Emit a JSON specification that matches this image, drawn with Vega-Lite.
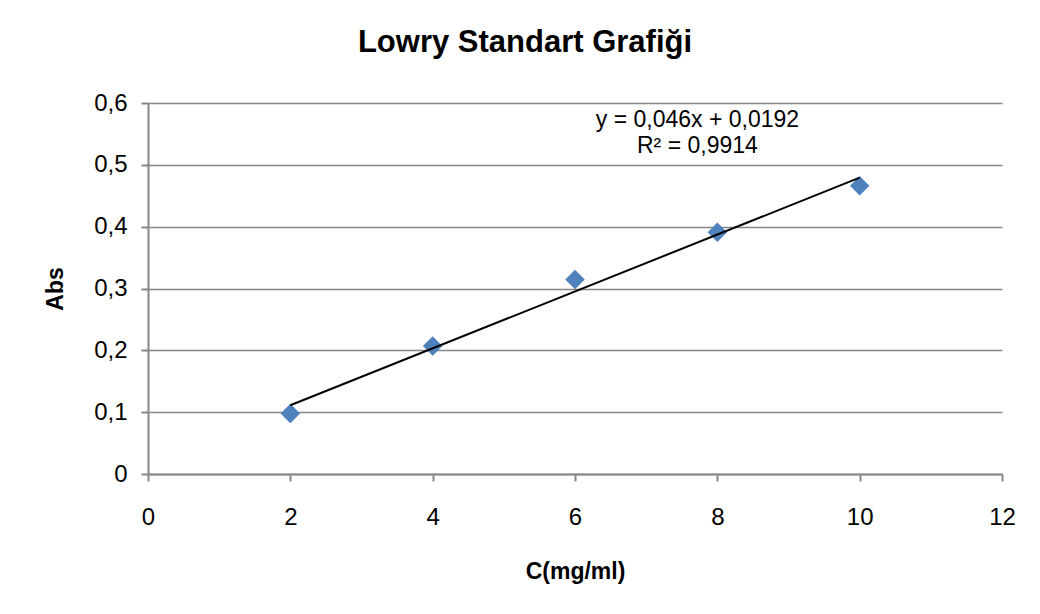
{
  "$schema": "https://vega.github.io/schema/vega-lite/v6.json",
  "width": 854,
  "height": 371,
  "autosize": {"type": "none"},
  "padding": {"left": 148, "top": 103, "right": 38, "bottom": 140},
  "background": "white",
  "title": {
    "text": "Lowry Standart Grafiği",
    "font": "Liberation Sans",
    "fontSize": 31,
    "fontWeight": "bold",
    "color": "black",
    "anchor": "middle",
    "frame": "group",
    "dx": -50,
    "offset": 32
  },
  "config": {
    "view": {"stroke": null},
    "axis": {
      "domainColor": "#868686",
      "domainWidth": 2,
      "tickColor": "#868686",
      "tickWidth": 2,
      "tickSize": 7,
      "gridColor": "#868686",
      "gridWidth": 1.5,
      "labelFont": "Liberation Sans",
      "labelFontSize": 24,
      "labelColor": "black",
      "titleFont": "Liberation Sans",
      "titleFontSize": 23,
      "titleFontWeight": "bold",
      "titleColor": "black"
    }
  },
  "datasets": {
    "points": [
      {"x": 2, "y": 0.098},
      {"x": 4, "y": 0.207},
      {"x": 6, "y": 0.3145},
      {"x": 8, "y": 0.391},
      {"x": 10, "y": 0.466}
    ],
    "trend": [
      {"x": 2, "y": 0.1112},
      {"x": 10, "y": 0.4792}
    ],
    "labels": [
      {"x": 7.72, "y": 0.573, "label": "y = 0,046x + 0,0192"},
      {"x": 7.72, "y": 0.531, "label": "R² = 0,9914"}
    ]
  },
  "layer": [
    {
      "data": {"name": "points"},
      "mark": {"type": "point", "shape": "diamond", "filled": true, "color": "#4F81BD", "opacity": 1, "size": 380, "strokeWidth": 0},
      "encoding": {
        "x": {
          "field": "x", "type": "quantitative",
          "scale": {"domain": [0, 12], "nice": false, "zero": false},
          "axis": {
            "values": [0, 2, 4, 6, 8, 10, 12],
            "format": "d",
            "grid": false,
            "labelPadding": 24,
            "labelFlush": false,
            "title": "C(mg/ml)",
            "titlePadding": 31
          }
        },
        "y": {
          "field": "y", "type": "quantitative",
          "scale": {"domain": [0, 0.6], "nice": false, "zero": false},
          "axis": {
            "values": [0, 0.1, 0.2, 0.3, 0.4, 0.5, 0.6],
            "grid": true,
            "labelPadding": 14,
            "labelFlush": false,
            "labelExpr": "replace(toString(datum.value), '.', ',')",
            "title": "Abs",
            "titlePadding": 26
          }
        }
      }
    },
    {
      "data": {"name": "trend"},
      "mark": {"type": "line", "color": "black", "strokeWidth": 2},
      "encoding": {
        "x": {"field": "x", "type": "quantitative"},
        "y": {"field": "y", "type": "quantitative"}
      }
    },
    {
      "data": {"name": "labels"},
      "mark": {"type": "text", "font": "Liberation Sans", "fontSize": 23, "color": "black", "align": "center", "baseline": "middle"},
      "encoding": {
        "x": {"field": "x", "type": "quantitative"},
        "y": {"field": "y", "type": "quantitative"},
        "text": {"field": "label"}
      }
    }
  ]
}
